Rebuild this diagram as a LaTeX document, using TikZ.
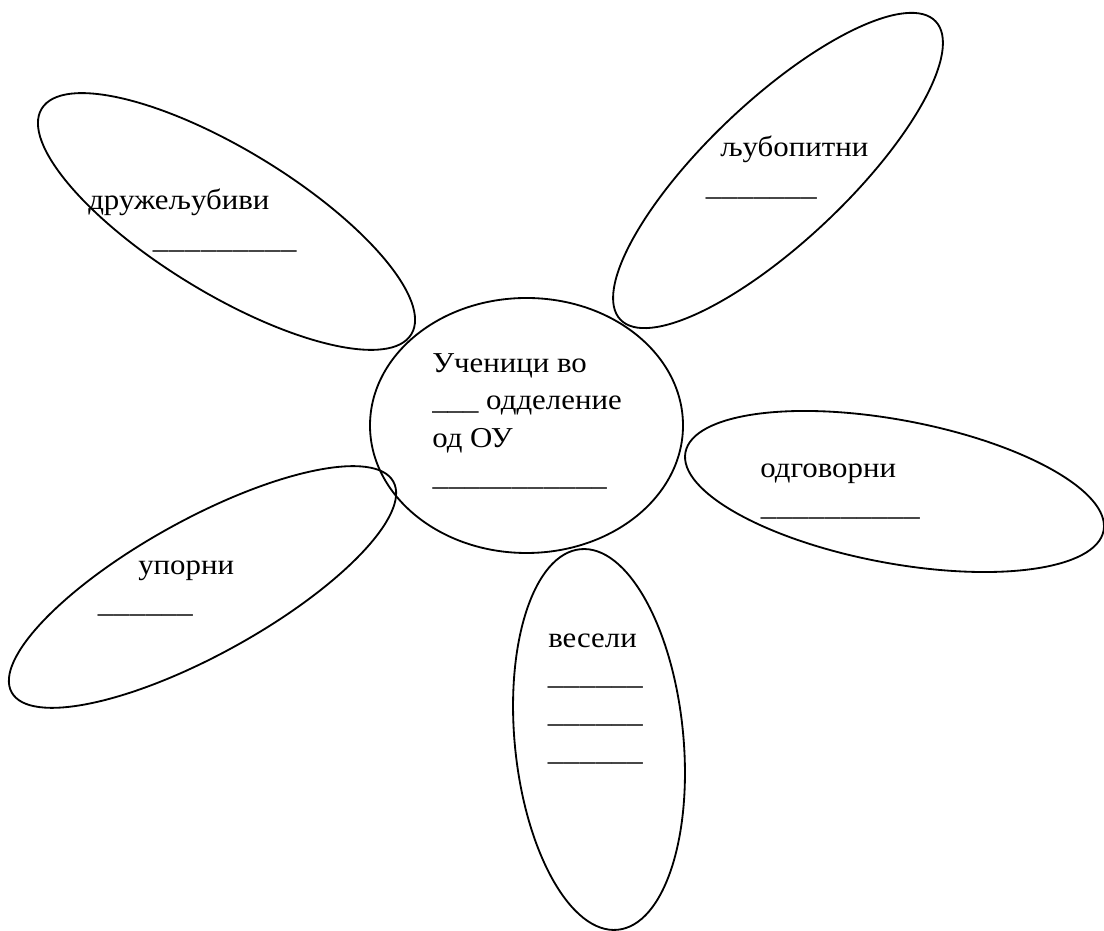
\documentclass[tikz,border=0pt]{standalone}
\usepackage{fontspec}
\setmainfont{Liberation Serif}[FakeStretch=1.07]

\newlength\pxu \setlength\pxu{0.025cm}
\newcommand\blank[1]{\leavevmode\xleaders\hbox{\_}\hskip#1\relax\kern0pt}

\tikzset{
  petal/.style={line width=1.3pt},
  word/.style={anchor=base west,inner sep=0pt,font=\fontsize{20.5}{24}\selectfont},
}

\begin{document}
\begin{tikzpicture}[x=0.025cm,y=0.025cm]
  \useasboundingbox (0,0) rectangle (1104,931);
  % centre
  \draw[petal] (526.5,505.5) ellipse [x radius=156.5, y radius=127.5];
  \node[word] (c1) at (432,558) {Ученици во};
  \node[word] (c2) at (432,521) {\_\_\_ одделение};
  \node[word] (c3) at (432,483) {од ОУ};
  \node[word] (c4) at (432,445) {\blank{175\pxu}};
  % petals
  \draw[petal,shift={(226.5,709.5)},rotate=-31.4] (0,0) ellipse [x radius=216.5, y radius=71.8];
  \draw[petal,shift={(778,760.5)},rotate=43.4] (0,0) ellipse [x radius=217, y radius=70.3];
  \draw[petal,shift={(894.5,439.5)},rotate=-10.6] (0,0) ellipse [x radius=212.7, y radius=71.6];
  \draw[petal,shift={(202.5,344)},rotate=28.9] (0,0) ellipse [x radius=218, y radius=67.6];
  \draw[petal,shift={(599,191.5)},rotate=95.6] (0,0) ellipse [x radius=191.2, y radius=84.3];
  % petal texts
  \node[word] (friendly) at (88,721) {дружељубиви};
  \node[word] (friendlyline) at (152,682) {\blank{145\pxu}};
  \node[word] (curious) at (720,774) {љубопитни};
  \node[word] (curiousline) at (705,735) {\blank{112\pxu}};
  \node[word] (resp) at (760,453) {одговорни};
  \node[word] (respline) at (760,415) {\blank{160\pxu}};
  \node[word] (stub) at (138,356) {упорни};
  \node[word] (stubline) at (97,318) {\blank{96\pxu}};
  \node[word] (merry) at (548,283) {весели};
  \foreach \i/\y in {1/246,2/208,3/170}
    \node[word] (merryline\i) at (547,\y) {\blank{96\pxu}};
\end{tikzpicture}
\end{document}
